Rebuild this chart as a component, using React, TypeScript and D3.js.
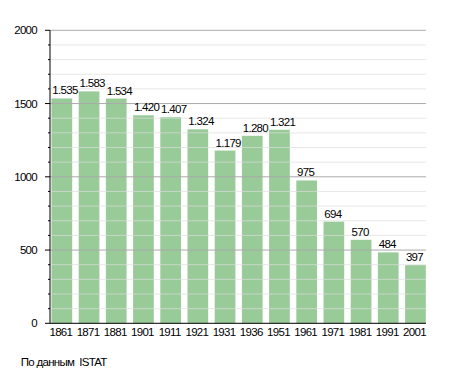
import * as d3 from "d3";
import React, { useRef, useEffect } from "react";

const years = ["1861", "1871", "1881", "1901", "1911", "1921", "1931", "1936", "1951", "1961", "1971", "1981", "1991", "2001"];
const population = [1535, 1583, 1534, 1420, 1407, 1324, 1179, 1280, 1321, 975, 694, 570, 484, 397];
const yMajorTicks = [0, 500, 1000, 1500, 2000];
const yMinorTicks = d3.range(0, 2001, 100);

const fmt = (v: number) => (v >= 1000 ? Math.floor(v / 1000) + "." + String(v % 1000).padStart(3, "0") : String(v));

function App() {
  const ref = useRef<SVGSVGElement>(null);

  useEffect(() => {
    const svg = d3.select(ref.current);
    svg.selectAll("*").remove();

    const left = 50, right = 426, top = 30.3, bottom = 323.3;
    const font = "Liberation Sans, Arial, sans-serif";
    const fs = 11.5, ls = -0.7;

    const x = d3.scaleBand().domain(years).range([51.5, 425.8]).paddingInner(0.24).paddingOuter(0).align(0);
    const y = d3.scaleLinear().domain([0, 2000]).range([bottom, top]);

    // bars
    svg.append("g")
      .selectAll("rect")
      .data(population)
      .enter()
      .append("rect")
      .attr("x", (d, i) => x(years[i]) as number)
      .attr("y", (d) => y(d))
      .attr("width", x.bandwidth())
      .attr("height", (d) => bottom - y(d))
      .attr("fill", "#98cb98");

    // grid, drawn over the bars
    svg.append("g")
      .selectAll("line")
      .data(yMinorTicks.filter((t) => t % 500 !== 0))
      .enter()
      .append("line")
      .attr("x1", left).attr("x2", right)
      .attr("y1", (d) => y(d)).attr("y2", (d) => y(d))
      .attr("stroke", "#ddd")
      .attr("stroke-opacity", 0.7)
      .attr("stroke-width", 1);

    svg.append("g")
      .selectAll("line")
      .data(yMajorTicks.filter((t) => t > 0))
      .enter()
      .append("line")
      .attr("x1", left).attr("x2", right)
      .attr("y1", (d) => y(d)).attr("y2", (d) => y(d))
      .attr("stroke", "#aaa")
      .attr("stroke-width", 1);

    // y ticks
    svg.append("g")
      .selectAll("line")
      .data(yMinorTicks)
      .enter()
      .append("line")
      .attr("x1", (d) => (d % 500 === 0 ? left - 5 : left - 2)).attr("x2", left)
      .attr("y1", (d) => y(d)).attr("y2", (d) => y(d))
      .attr("stroke", "#000");

    svg.append("g")
      .selectAll("text")
      .data(yMajorTicks)
      .enter()
      .append("text")
      .attr("x", 37)
      .attr("y", (d) => y(d) + 4)
      .attr("text-anchor", "end")
      .attr("font-family", font)
      .attr("font-size", fs)
      .attr("letter-spacing", ls)
      .text((d) => d);

    // axes
    svg.append("line").attr("x1", left).attr("x2", left).attr("y1", top).attr("y2", bottom).attr("stroke", "#000");
    svg.append("line").attr("x1", left).attr("x2", right).attr("y1", bottom).attr("y2", bottom).attr("stroke", "#000");

    // value labels
    svg.append("g")
      .selectAll("text")
      .data(population)
      .enter()
      .append("text")
      .attr("x", (d, i) => (x(years[i]) as number) + 0.8)
      .attr("y", (d) => y(d) - 4)
      .attr("font-family", font)
      .attr("font-size", fs)
      .attr("letter-spacing", ls)
      .text((d) => fmt(d));

    // year labels
    svg.append("g")
      .selectAll("text")
      .data(years)
      .enter()
      .append("text")
      .attr("x", (d) => (x(d) as number) + x.bandwidth() / 2 - 1)
      .attr("y", 335.5)
      .attr("text-anchor", "middle")
      .attr("font-family", font)
      .attr("font-size", fs)
      .attr("letter-spacing", ls)
      .text((d) => d);

    svg.append("text")
      .attr("x", 20.7)
      .attr("y", 365.5)
      .attr("font-family", font)
      .attr("font-size", fs)
      .attr("letter-spacing", ls)
      .text("По данным  ISTAT")
      .style("white-space", "pre");
  }, []);

  return (
    <svg ref={ref} width={455} height={373} style={{ position: "absolute", left: 0, top: 0 }}></svg>
  );
}

export default App;
